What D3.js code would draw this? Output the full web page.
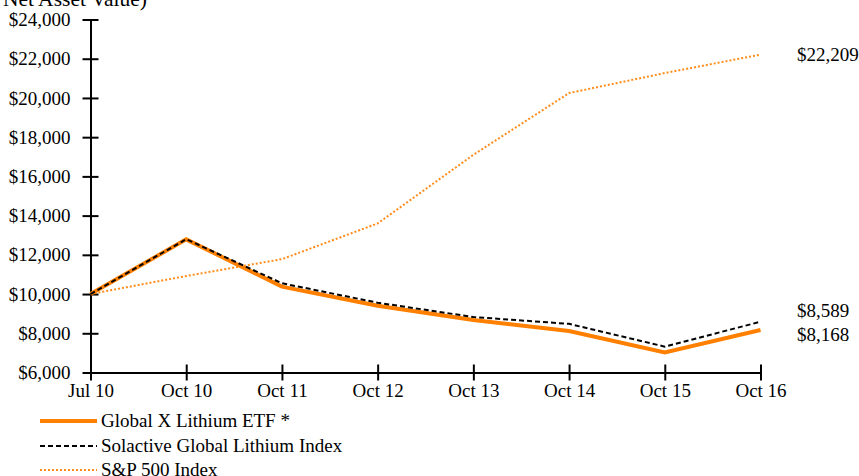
<!DOCTYPE html>
<html><head><meta charset="utf-8">
<script src="https://cdn.jsdelivr.net/npm/d3@7"></script>
<style>
body{margin:0;background:#fff;}
svg{display:block;font-family:"Liberation Serif","Times New Roman",serif;}
</style></head>
<body><svg id="c" width="859" height="476"></svg>
<script>
const categories = ["Jul 10","Oct 10","Oct 11","Oct 12","Oct 13","Oct 14","Oct 15","Oct 16"];
const etfValues = [10000,12790,10380,9400,8680,8120,7020,8168];
const indexValues = [10000,12800,10550,9560,8830,8480,7320,8589];
const spValues = [10000,10920,11780,13600,17100,20250,21270,22209];
const yTicks = [6000,8000,10000,12000,14000,16000,18000,20000,22000,24000];
const seriesNames = ["Global X Lithium ETF *","Solactive Global Lithium Index","S&P 500 Index"];
const endLabels = ["$8,168","$8,589","$22,209"];

const svg = d3.select("#c");
const x = d3.scalePoint().domain(categories).range([90.5,760.5]);
const y = d3.scaleLinear().domain([6000,24000]).range([372.5,19.5]);
const fs = 19;
const ff = "Liberation Serif";

// partially visible title
svg.append("text").attr("x",147).attr("y",6).attr("text-anchor","end").attr("font-size",21.5).attr("font-family",ff).attr("fill","#000").text("Net Asset Value)");

// y axis
const yAxis = svg.append("g").attr("transform","translate(90.5,0)")
  .call(d3.axisLeft(y).tickValues(yTicks).tickSize(0).tickPadding(20)
    .tickFormat(d=>"$"+d3.format(",")(d)));
yAxis.select(".domain").attr("stroke","#000").attr("stroke-width",2);
yAxis.selectAll(".tick text").attr("font-size",fs).attr("font-family",ff).attr("fill","#000").attr("dy","0.32em");
yAxis.selectAll(".tick").append("line").attr("x1",-8).attr("x2",8).attr("stroke","#000").attr("stroke-width",2);

// x axis
const xAxis = svg.append("g").attr("transform","translate(0,372.5)")
  .call(d3.axisBottom(x).tickSize(0).tickPadding(11));
xAxis.select(".domain").attr("stroke","#000").attr("stroke-width",2);
xAxis.selectAll(".tick text").attr("font-size",fs).attr("font-family",ff).attr("fill","#000").attr("dy","0.71em");
xAxis.selectAll(".tick").append("line").attr("y1",-8).attr("y2",8).attr("stroke","#000").attr("stroke-width",2);

const line = d3.line().x((d,i)=>x(categories[i])).y(d=>y(d));
const styles = [
  {data:etfValues, stroke:"#ff8000", width:4, dash:null},
  {data:indexValues, stroke:"#000", width:2, dash:"5,3"},
  {data:spValues, stroke:"#ff8c1a", width:2, dash:"2,2"}
];
[2,0,1].forEach(k=>{
  const s = styles[k];
  svg.append("path").datum(s.data).attr("d",line).attr("fill","none")
    .attr("stroke",s.stroke).attr("stroke-width",s.width)
    .attr("stroke-dasharray",s.dash).attr("stroke-linejoin","miter");
});

// end labels
const endVals = [etfValues[7], indexValues[7], spValues[7]];
const endOffsets = [5, -11, 0];
endLabels.forEach((t,i)=>{
  svg.append("text").attr("x",797).attr("y",y(endVals[i])+endOffsets[i]).attr("dy","0.32em")
    .attr("font-size",fs).attr("font-family",ff).attr("fill","#000").text(t);
});

// legend
const legY = [421,446,470];
seriesNames.forEach((n,i)=>{
  const s = styles[i];
  svg.append("line").attr("x1",40).attr("x2",97).attr("y1",legY[i]).attr("y2",legY[i])
    .attr("stroke",s.stroke).attr("stroke-width",s.width).attr("stroke-dasharray",s.dash);
  svg.append("text").attr("x",101).attr("y",legY[i]).attr("dy","0.32em")
    .attr("font-size",fs).attr("font-family",ff).attr("fill","#000").text(n);
});
</script></body></html>
